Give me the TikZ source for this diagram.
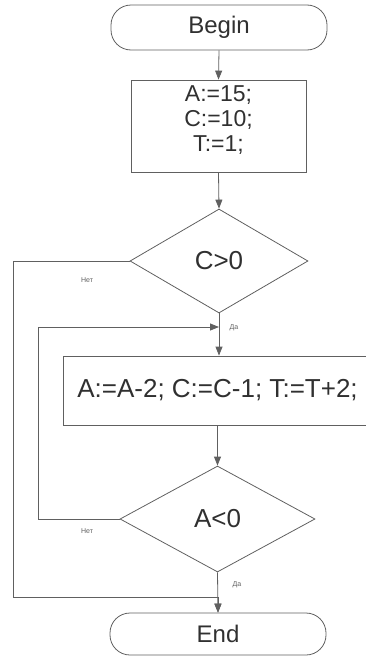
\documentclass[tikz,border=0pt]{standalone}
\usepackage{fontspec}
\setmainfont{Liberation Sans}
\usetikzlibrary{arrows.meta,shapes.geometric}
\definecolor{ln}{HTML}{606060}
\definecolor{tx}{HTML}{303030}
\tikzset{
  flow/.style={draw=ln, line width=0.8pt, text=tx, inner sep=0pt, font=\fontsize{24}{25}\selectfont},
  term/.style={flow, rectangle, rounded corners=20pt, minimum width=216pt},
  proc/.style={flow, rectangle, align=center},
  dec/.style={flow, diamond, font=\fontsize{26}{27}\selectfont},
  conn/.style={draw=ln, line width=0.8pt, -{Triangle[length=9pt,width=7pt]}},
  lbl/.style={text=ln, font=\fontsize{7}{8}\selectfont, inner sep=0pt}
}
\begin{document}
\begin{tikzpicture}[x=1pt,y=-1pt]
\useasboundingbox (0,0) rectangle (366,656);
\clip (0,0) rectangle (366,656);
\node[term, minimum height=45pt] (begin) at (219,27.5) {Begin};
\node[proc, minimum width=175pt, minimum height=92pt, font=\fontsize{23}{25}\selectfont] (init) at (218.5,126) {A:=15;\\C:=10;\\T:=1;\\[-10pt]\mbox{}};
\node[dec, minimum width=178pt, minimum height=104pt] (d1) at (219,261) {C>0};
\node[proc, minimum width=307pt, minimum height=69pt, font=\fontsize{26}{27}\selectfont] (body) at (216.5,390.5) {\hspace*{2pt}A:=A-2; C:=C-1; T:=T+2;};
\node[dec, minimum width=195pt, minimum height=106pt] (d2) at (217.5,519) {A<0};
\node[term, minimum height=42pt] (end) at (218,634) {End};
\coordinate (loopin) at (219,327);
\coordinate (exitj) at (218,597);

\draw[conn] (begin.south) -- (init.north);
\draw[conn] (init.south) -- (d1.north);
\draw[conn] (d1.south) -- (d1.south |- body.north);
\draw[conn] (d2.north |- body.south) -- (d2.north);
\draw[conn] (d2.south) -- (end.north);
\draw[conn] (d1.west) -- (13,261) |- (exitj) -- (end.north);
\draw[conn] (d2.west) -- (38,519) |- (loopin);

\node[lbl] (n1) at (87,280) {Нет};
\node[lbl] (n2) at (87,531) {Нет};
\node[lbl] (y1) at (234,328) {Да};
\node[lbl] (y2) at (237,585) {Да};
\end{tikzpicture}
\end{document}
